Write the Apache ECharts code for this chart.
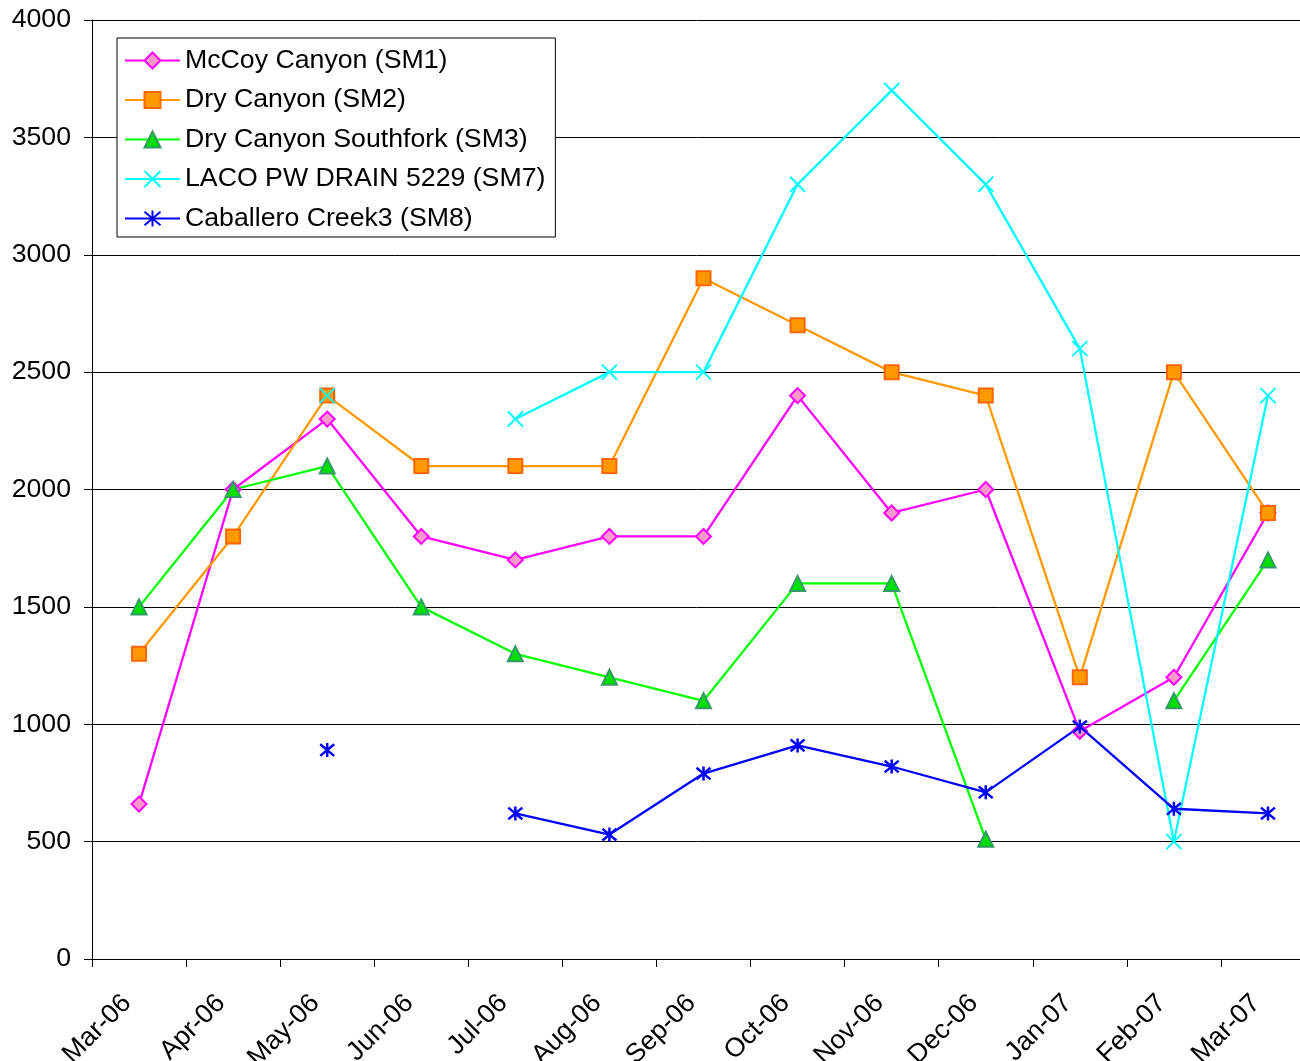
<!DOCTYPE html>
<html>
<head>
<meta charset="utf-8">
<script src="https://cdn.jsdelivr.net/npm/echarts@6/dist/echarts.min.js"></script>
<style>
  html, body { margin: 0; padding: 0; background: #fff; }
  #main { width: 1300px; height: 1061px; }
</style>
</head>
<body>
<div id="main"></div>
<script>
// months on the category axis
const months = ['Mar-06', 'Apr-06', 'May-06', 'Jun-06', 'Jul-06', 'Aug-06', 'Sep-06',
  'Oct-06', 'Nov-06', 'Dec-06', 'Jan-07', 'Feb-07', 'Mar-07']

// values, null = no sample
const mccoy = [660, 2000, 2300, 1800, 1700, 1800, 1800, 2400, 1900, 2000, 970, 1200, 1900]
const dryCanyon = [1300, 1800, 2400, 2100, 2100, 2100, 2900, 2700, 2500, 2400, 1200, 2500, 1900]
const southfork = [1500, 2000, 2100, 1500, 1300, 1200, 1100, 1600, 1600, 510, null, 1100, 1700]
const laco = [null, null, 2400, null, 2300, 2500, 2500, 3300, 3700, 3300, 2600, 500, 2400]
const caballero = [null, null, 890, null, 620, 530, 790, 910, 820, 710, 990, 640, 620]

const seriesNames = ['McCoy Canyon (SM1)', 'Dry Canyon (SM2)', 'Dry Canyon Southfork (SM3)',
  'LACO PW DRAIN 5229 (SM7)', 'Caballero Creek3 (SM8)']

const FONT = "'Liberation Sans', Arial, sans-serif"
const FS = 26.7
const crossPath = 'path://M0,0 L10,10 M10,0 L0,10'
const starPath = 'path://M0,0 L10,10 M10,0 L0,10 M5,-1 L5,11'

function lineSeries(name, data, lineColor, symbol, size, fill, border, bw) {
    return {
        name: name,
        type: 'line',
        data: data,
        connectNulls: false,
        showAllSymbol: true,
        symbol: symbol,
        symbolSize: size,
        color: lineColor,
        lineStyle: { color: lineColor, width: 2.3 },
        itemStyle: { color: fill, borderColor: border, borderWidth: bw },
        emphasis: { disabled: true }
    }
}

let myChart = echarts.init(document.getElementById('main'))
myChart.setOption({
    animation: false,
    backgroundColor: '#fff',
    textStyle: { fontFamily: FONT },
    grid: {
        left: 92,
        top: 20,
        width: 1223,
        height: 939,
        outerBoundsMode: 'none',
        containLabel: false
    },
    legend: {
        orient: 'vertical',
        left: 117,
        top: 38,
        padding: [9, 10, 5, 7],
        itemGap: 12.5,
        itemWidth: 55,
        itemHeight: 20,
        backgroundColor: '#fff',
        borderColor: '#000',
        borderWidth: 1,
        textStyle: { fontSize: FS, color: '#000', fontFamily: FONT },
        data: seriesNames
    },
    xAxis: {
        type: 'category',
        data: months,
        boundaryGap: true,
        axisLine: { lineStyle: { color: '#000', width: 1 } },
        axisTick: { show: true, interval: 0, length: 8, lineStyle: { color: '#000' } },
        axisLabel: {
            interval: 0,
            rotate: 45,
            margin: 28,
            padding: [0, 17, 0, 0],
            fontSize: FS,
            color: '#000',
            fontFamily: FONT
        },
        splitLine: { show: false }
    },
    yAxis: {
        type: 'value',
        min: 0,
        max: 4000,
        interval: 500,
        axisLine: { show: true, lineStyle: { color: '#000', width: 1 } },
        axisTick: { show: true, length: 8, lineStyle: { color: '#000' } },
        axisLabel: {
            margin: 21,
            fontSize: FS,
            color: '#000',
            fontFamily: FONT,
            formatter: v => String(v)
        },
        splitLine: { show: true, lineStyle: { color: '#000', width: 1 } }
    },
    series: [
        lineSeries(seriesNames[0], mccoy, '#FF00FF', 'diamond', 15, '#FF99CC', '#FF00FF', 2),
        lineSeries(seriesNames[1], dryCanyon, '#FF9900', 'rect', 14, '#FF9900', '#FF6600', 2),
        lineSeries(seriesNames[2], southfork, '#00FF00', 'triangle', 15, '#00E000', '#339966', 2),
        lineSeries(seriesNames[3], laco, '#00FFFF', crossPath, 15, '#00FFFF', '#00FFFF', 2),
        lineSeries(seriesNames[4], caballero, '#0000FF', starPath, 14, '#0000FF', '#0000FF', 2.5)
    ]
})
</script>
</body>
</html>
